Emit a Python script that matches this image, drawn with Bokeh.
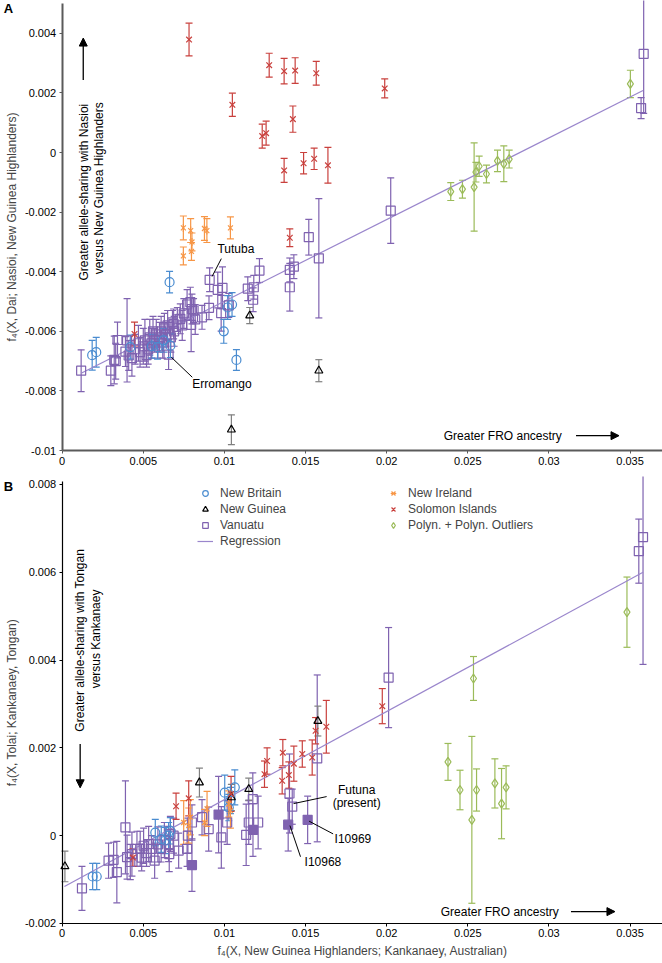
import math
from bokeh.plotting import figure
from bokeh.models import (ColumnDataSource, Whisker, TeeHead, Range1d, Label, Arrow,
                          NormalHead, Legend, LegendItem, FixedTicker, CustomJSTickFormatter)
from bokeh.layouts import column
from bokeh.embed import file_html
from bokeh.resources import INLINE

FONT = "Liberation Sans"

# ---------------- Panel A data: f4(X, Dai; Nasioi, New Guinea Highlanders) ----------------
A_NB_X = [0.00185, 0.0021, 0.0042, 0.00553, 0.00588, 0.00625, 0.00667, 0.00662, 0.00996, 0.0102, 0.01047, 0.01074]
A_NB_Y = [-0.0068, -0.0067, -0.00653, -0.0065, -0.00653, -0.0063, -0.00648, -0.00435, -0.006, -0.0052, -0.0051, -0.00696]
A_NB_E = [0.0005, 0.0005, 0.0004, 0.0004, 0.0004, 0.0004, 0.0004, 0.00036, 0.0004, 0.0004, 0.0004, 0.00035]

A_NG_X = [0.01043, 0.01156, 0.01582]
A_NG_Y = [-0.0093, -0.00547, -0.00732]
A_NG_E = [0.0005, 0.00027, 0.00037]

A_NI_X = [0.00747, 0.00792, 0.00877, 0.00892, 0.01037, 0.00747, 0.00797, 0.0080]
A_NI_Y = [-0.00253, -0.00262, -0.00255, -0.00262, -0.00253, -0.00347, -0.00332, -0.0030]
A_NI_E = [0.0004, 0.0004, 0.0004, 0.0004, 0.00037, 0.0003, 0.0003, 0.0003]

A_SI_X = [0.00782, 0.01049, 0.01233, 0.01257, 0.01276, 0.01368, 0.01436, 0.01566, 0.01422, 0.01368,
          0.01488, 0.01553, 0.01638, 0.01988, 0.01403, 0.00446]
A_SI_Y = [0.00379, 0.0016, 0.00055, 0.00065, 0.00293, 0.00273, 0.00275, 0.00266, 0.00112, -0.0006,
          -0.00036, -0.00021, -0.00043, 0.00215, -0.00286, -0.00609]
A_SI_E = [0.00055, 0.00039, 0.0004, 0.0004, 0.0004, 0.00043, 0.00043, 0.0004, 0.00044, 0.0004,
          0.00036, 0.00036, 0.0006, 0.00032, 0.0003, 0.0004]

A_PO_X = [0.02395, 0.02467, 0.02539, 0.0255, 0.0257, 0.02615, 0.02683, 0.02722, 0.02755, 0.03502]
A_PO_Y = [-0.00131, -0.00123, -0.00116, -0.00066, -0.00046, -0.00072, -0.00028, -0.00038, -0.00022, 0.0023]
A_PO_E = [0.0003, 0.0003, 0.00148, 0.00033, 0.00034, 0.0003, 0.00036, 0.0006, 0.0003, 0.00046]

A_VA_X = [0.00117, 0.0030, 0.00321, 0.0033, 0.00341, 0.0040, 0.0041, 0.0039, 0.0043, 0.0045,
          0.0047, 0.0048, 0.0050, 0.0051, 0.0052, 0.0053, 0.0054, 0.0055, 0.0056, 0.0057,
          0.0058, 0.0059, 0.0060, 0.0061, 0.0062, 0.0063, 0.0064, 0.0065, 0.00656, 0.0067,
          0.0068, 0.0069, 0.00687, 0.0071, 0.00728, 0.0074, 0.0075, 0.0077, 0.0079, 0.0080,
          0.00795, 0.0081, 0.0082, 0.00862, 0.00905, 0.00909, 0.00959, 0.00988, 0.0098, 0.01027,
          0.01144, 0.01181, 0.01216, 0.01177, 0.01403, 0.01428, 0.01403, 0.0152, 0.01582, 0.02025,
          0.03568, 0.03584]
A_VA_Y = [-0.00732, -0.00732, -0.00696, -0.0070, -0.00629, -0.0063, -0.00681, -0.00668, -0.0069, -0.0066,
          -0.0064, -0.0067, -0.0065, -0.0063, -0.0068, -0.0066, -0.0062, -0.0064, -0.0060, -0.0063,
          -0.0061, -0.0065, -0.0062, -0.0060, -0.0064, -0.0059, -0.0061, -0.0058, -0.00678, -0.0062,
          -0.0057, -0.0060, -0.00575, -0.0056, -0.00558, -0.0058, -0.0054, -0.0051, -0.00502, -0.00525,
          -0.00578, -0.0053, -0.0056, -0.00553, -0.00521, -0.00427, -0.00461, -0.00454, -0.00539, -0.00513,
          -0.00457, -0.00452, -0.00396, -0.00494, -0.00394, -0.00383, -0.00452, -0.00284, -0.00355, -0.00195,
          0.00149, 0.00331]
A_VA_E = [0.0007, 0.0005, 0.0008, 0.0006, 0.0006, 0.0014, 0.0005, 0.0005, 0.0006, 0.0005,
          0.0006, 0.0005, 0.0006, 0.0007, 0.0004, 0.0005, 0.0006, 0.0005, 0.0005, 0.0004,
          0.0005, 0.0004, 0.0005, 0.0005, 0.0005, 0.0005, 0.0004, 0.0005, 0.0005, 0.0005,
          0.0004, 0.0005, 0.0005, 0.0004, 0.0005, 0.0005, 0.0005, 0.0005, 0.0005, 0.0005,
          0.0009, 0.0004, 0.0005, 0.0004, 0.0004, 0.0004, 0.0006, 0.0007, 0.0006, 0.0004,
          0.0004, 0.0004, 0.0004, 0.0004, 0.0004, 0.0004, 0.0008, 0.0006, 0.0020, 0.0011,
          0.00035, 0.0020]

A_REG_X = [0.0012, 0.0358]
A_REG_Y = [-0.0074, 0.00208]

# ---------------- Panel B data: f4(X, Tolai; Kankanaey, Tongan) ----------------
B_NB_X = [0.00188, 0.00213, 0.00574, 0.00611, 0.00636, 0.00656, 0.00667, 0.01002, 0.01027, 0.01037, 0.01064]
B_NB_Y = [-0.00093, -0.00093, 0.00007, -0.00008, -0.00011, 0.0, 0.00011, 0.00098, 0.00064, 0.0008, 0.0011]
B_NB_E = [0.0003, 0.0003, 0.0003, 0.0003, 0.0003, 0.0003, 0.0003, 0.0004, 0.0003, 0.0003, 0.0004]

B_NG_X = [0.00017, 0.00846, 0.01043, 0.0115, 0.01576]
B_NG_Y = [-0.0007, 0.00121, 0.00087, 0.00106, 0.00261]
B_NG_E = [0.00035, 0.00033, 0.0003, 0.00025, 0.00034]

B_NI_X = [0.00749, 0.0078, 0.0079, 0.00878, 0.00893, 0.01027, 0.01037]
B_NI_Y = [0.0003, 0.00023, 0.00042, 0.0003, 0.00061, 0.00072, 0.00057]
B_NI_E = [0.0005, 0.0004, 0.0004, 0.0003, 0.0004, 0.0003, 0.0004]

B_SI_X = [0.00436, 0.00702, 0.0078, 0.01041, 0.01247, 0.01263, 0.01356, 0.0136, 0.01397, 0.01428,
          0.0148, 0.01541, 0.01562, 0.01628, 0.01973]
B_SI_Y = [-0.0005, 0.00067, 0.00085, 0.00095, 0.0014, 0.0017, 0.00125, 0.00189, 0.00138, 0.00164,
          0.00186, 0.00178, 0.00239, 0.00248, 0.00295]
B_SI_E = [0.0002, 0.0003, 0.0004, 0.0004, 0.0003, 0.0003, 0.0003, 0.0003, 0.0003, 0.0004,
          0.0003, 0.0004, 0.0003, 0.0006, 0.0004]

B_PO_X = [0.02378, 0.02452, 0.02525, 0.02535, 0.02554, 0.02667, 0.02708, 0.02736, 0.03481]
B_PO_Y = [0.00168, 0.00104, 0.00036, 0.00358, 0.00104, 0.00119, 0.00073, 0.0011, 0.00509]
B_PO_E = [0.00042, 0.00045, 0.0019, 0.0005, 0.00048, 0.00056, 0.0008, 0.00049, 0.0008]

B_VA_X = [0.00122, 0.00286, 0.00317, 0.00337, 0.0039, 0.0040, 0.0042, 0.0043, 0.00461, 0.00481,
          0.0049, 0.00502, 0.0052, 0.00533, 0.0055, 0.0057, 0.0059, 0.0061, 0.0063, 0.00656,
          0.0066, 0.00667, 0.00687, 0.00718, 0.0077, 0.00775, 0.008, 0.00862, 0.00903, 0.00981,
          0.01017, 0.01134, 0.0115, 0.01175, 0.01208, 0.01401, 0.01418, 0.01572, 0.02012, 0.03554,
          0.0358]
B_VA_Y = [-0.0012, -0.00057, -0.00055, -0.00083, 0.00019, -0.00049, -0.0006, -0.00042, -0.0003, -0.0003,
          -0.0005, -0.00023, -0.0004, -0.00019, -0.0003, -0.00057, -0.0002, -0.0003, -0.0001, -0.00019,
          -0.00042, 0.00004, 0.0, -0.00034, -0.0003, 0.0, 0.0003, 0.00042, 0.00015, -0.00004,
          0.0003, 0.00002, 0.0003, 0.00083, 0.0003, 0.00096, 0.00066, 0.00176, 0.0036, 0.00648,
          0.0068]
B_VA_E = [0.0005, 0.0004, 0.0004, 0.0007, 0.00106, 0.0005, 0.0004, 0.0005, 0.0004, 0.0004,
          0.0003, 0.0004, 0.0003, 0.0004, 0.0003, 0.0004, 0.0004, 0.0003, 0.0004, 0.0004,
          0.0004, 0.0004, 0.0004, 0.0004, 0.0004, 0.0004, 0.0004, 0.0004, 0.0005, 0.0007,
          0.0005, 0.0007, 0.0005, 0.0006, 0.0006, 0.0009, 0.0004, 0.0019, 0.00114, 0.00073,
          0.0029]

# ancient Vanuatu individuals (filled squares)
B_VAA_X = [0.008, 0.00964, 0.01176, 0.01393, 0.01513]
B_VAA_Y = [-0.00067, 0.00048, 0.00013, 0.00025, 0.00036]
B_VAA_E = [0.0006, 0.00087, 0.0006, 0.0006, 0.00054]

B_REG_X = [0.00014, 0.0358]
B_REG_Y = [-0.00116, 0.0060]

# ---------------- styling ----------------
C_NB = "#4A8CD0"
C_NG = "#000000"
C_NG_BAR = "#808080"
C_VA = "#7F62B0"
C_NI = "#F79646"
C_SI = "#C9403D"
C_PO = "#9BBB59"
C_REG = "#9A86CC"

X_START = -0.0038   # room for the y axis labels inside the canvas
X_END = 0.037
X_TICKS = [0, 0.005, 0.01, 0.015, 0.02, 0.025, 0.03, 0.035]
A_YTICKS = [-0.01, -0.008, -0.006, -0.004, -0.002, 0, 0.002, 0.004]
B_YTICKS = [-0.002, 0, 0.002, 0.004, 0.006, 0.008]

fmt_code = "return String(Math.round(tick*1e6)/1e6);"


def make_fig(height, y0, y1, ybounds, yticks, axis_color, axis_w):
    p = figure(width=662, height=height, x_range=Range1d(X_START, X_END), y_range=Range1d(y0, y1),
               output_backend="svg", toolbar_location=None,
               min_border_left=0, min_border_right=0, min_border_top=0, min_border_bottom=0)
    p.outline_line_color = None
    p.grid.visible = False
    p.background_fill_color = "white"
    p.border_fill_color = "white"
    p.yaxis[0].fixed_location = 0
    p.yaxis[0].bounds = ybounds
    p.xaxis[0].fixed_location = ybounds[0]
    p.xaxis[0].bounds = (0, X_END)
    for ax, ticks in ((p.xaxis[0], X_TICKS), (p.yaxis[0], yticks)):
        ax.ticker = FixedTicker(ticks=ticks)
        ax.formatter = CustomJSTickFormatter(code=fmt_code)
        ax.axis_line_color = axis_color
        ax.axis_line_width = axis_w
        ax.major_tick_line_color = axis_color
        ax.major_tick_out = 3
        ax.major_tick_in = 0
        ax.minor_tick_out = 0
        ax.minor_tick_in = 0
        ax.major_label_standoff = 3
        ax.major_label_text_font = FONT
        ax.major_label_text_font_size = "11px"
        ax.major_label_text_color = "black"
        ax.axis_label_text_font = FONT
        ax.axis_label_text_font_size = "12px"
        ax.axis_label_text_font_style = "normal"
        ax.axis_label_standoff = 3
    return p


def series(p, xs, ys, es, marker, color, size, bar_color=None, fill=None, lw=1.2, star=False):
    bc = bar_color or color
    src = ColumnDataSource(dict(x=xs, y=ys,
                                upper=[y + e for y, e in zip(ys, es)],
                                lower=[y - e for y, e in zip(ys, es)]))
    w = Whisker(source=src, base="x", upper="upper", lower="lower", dimension="height",
                line_color=bc, line_width=1.2,
                upper_head=TeeHead(size=7, line_color=bc, line_width=1.2),
                lower_head=TeeHead(size=7, line_color=bc, line_width=1.2))
    p.add_layout(w)
    rs = [p.scatter("x", "y", source=src, marker=marker, size=size, line_color=color,
                    fill_color=fill, line_width=lw)]
    if star:
        rs.append(p.scatter("x", "y", source=src, marker="dash", angle=math.pi / 2, size=size + 1,
                            line_color=color, line_width=lw))
    return rs


def text(p, x, y, s, angle=0.0, align="left", baseline="middle", size="12px", style="normal"):
    p.add_layout(Label(x=x, y=y, text=s, angle=angle, text_align=align, text_baseline=baseline,
                       text_font=FONT, text_font_size=size, text_font_style=style, text_color="black"))


def arrow(p, x0, y0, x1, y1):
    p.add_layout(Arrow(x_start=x0, y_start=y0, x_end=x1, y_end=y1, line_width=1.3, line_color="black",
                       end=NormalHead(size=8, fill_color="black", line_color="black")))


# annotation positions (layout)
ANN_A = dict(
    up_arrow=(0.0013, 0.00243, 0.0013, 0.00384),
    txt1=(0.00136, -0.00133), txt2=(0.00228, -0.0012),
    fro=(0.02352, -0.0095), fro_arrow=(0.03167, -0.0095, 0.03432, -0.0095),
    tutuba=(0.00957, -0.00325), tutuba_line=(0.00924, -0.00416, 0.00981, -0.00356),
    erro=(0.00802, -0.00775), erro_line=(0.00673, -0.00687, 0.00802, -0.00754),
    letter=(-0.0036, 0.00508),
)
ANN_B = dict(
    down_arrow=(0.00111, 0.00209, 0.00111, 0.00109),
    txt1=(0.00111, 0.00445), txt2=(0.0021, 0.00448),
    fro=(0.02333, -0.00173), fro_arrow=(0.03136, -0.00173, 0.03407, -0.00173),
    futuna=(0.01815, 0.00105), present=(0.01815, 0.00075), futuna_line=(0.01426, 0.00073, 0.0163, 0.00089),
    i69=(0.01679, -0.00007), i69_line=(0.01522, 0.00033, 0.0167, 0.00004),
    i68=(0.01494, -0.00061), i68_line=(0.01404, 0.00023, 0.01469, -0.00048),
    letter=(-0.0036, 0.00813),
)

# ---------------- Panel A ----------------
pa = make_fig(476, -0.01087, 0.0051, (-0.01, 0.005), A_YTICKS, "#5a5a5a", 2)
pa.yaxis[0].axis_label = "f\u2084(X, Dai; Nasioi, New Guinea Highlanders)"

pa.line(A_REG_X, A_REG_Y, line_color=C_REG, line_width=1.2)
series(pa, A_VA_X, A_VA_Y, A_VA_E, "square", C_VA, 9)
series(pa, A_NB_X, A_NB_Y, A_NB_E, "circle", C_NB, 9)
series(pa, A_NG_X, A_NG_Y, A_NG_E, "triangle", C_NG, 8, bar_color=C_NG_BAR)
series(pa, A_NI_X, A_NI_Y, A_NI_E, "x", C_NI, 7, star=True)
series(pa, A_SI_X, A_SI_Y, A_SI_E, "x", C_SI, 8)
series(pa, A_PO_X, A_PO_Y, A_PO_E, "diamond", C_PO, 9)

a = ANN_A
arrow(pa, *a["up_arrow"])
text(pa, *a["txt1"], "Greater allele-sharing with Nasioi", angle=math.pi / 2, align="center")
text(pa, *a["txt2"], "versus New Guinea Highlanders", angle=math.pi / 2, align="center")
text(pa, *a["fro"], "Greater FRO ancestry")
arrow(pa, *a["fro_arrow"])
text(pa, *a["tutuba"], "Tutuba")
text(pa, *a["erro"], "Erromango")
for key in ("tutuba_line", "erro_line"):
    x0, y0, x1, y1 = a[key]
    pa.line([x0, x1], [y0, y1], line_color="black", line_width=1)
text(pa, *a["letter"], "A", baseline="top", size="13px", style="bold")

# ---------------- Panel B ----------------
pb = make_fig(485, -0.002866, 0.00818, (-0.002, 0.00807), B_YTICKS, "black", 1.2)
pb.yaxis[0].axis_label = "f\u2084(X, Tolai; Kankanaey, Tongan)"
pb.xaxis[0].axis_label = "f\u2084(X, New Guinea Highlanders; Kankanaey, Australian)"

r_reg = pb.line(B_REG_X, B_REG_Y, line_color=C_REG, line_width=1.2)
r_va = series(pb, B_VA_X, B_VA_Y, B_VA_E, "square", C_VA, 9)
series(pb, B_VAA_X, B_VAA_Y, B_VAA_E, "square", C_VA, 9, fill=C_VA)
r_nb = series(pb, B_NB_X, B_NB_Y, B_NB_E, "circle", C_NB, 9)
r_ng = series(pb, B_NG_X, B_NG_Y, B_NG_E, "triangle", C_NG, 8, bar_color=C_NG_BAR)
r_ni = series(pb, B_NI_X, B_NI_Y, B_NI_E, "x", C_NI, 7, star=True)
r_si = series(pb, B_SI_X, B_SI_Y, B_SI_E, "x", C_SI, 8)
r_po = series(pb, B_PO_X, B_PO_Y, B_PO_E, "diamond", C_PO, 9)

b = ANN_B
arrow(pb, *b["down_arrow"])
text(pb, *b["txt1"], "Greater allele-sharing with Tongan", angle=math.pi / 2, align="center")
text(pb, *b["txt2"], "versus Kankanaey", angle=math.pi / 2, align="center")
text(pb, *b["fro"], "Greater FRO ancestry")
arrow(pb, *b["fro_arrow"])
text(pb, *b["futuna"], "Futuna", align="center")
text(pb, *b["present"], "(present)", align="center")
text(pb, *b["i69"], "I10969")
text(pb, *b["i68"], "I10968")
for key in ("futuna_line", "i69_line", "i68_line"):
    x0, y0, x1, y1 = b[key]
    pb.line([x0, x1], [y0, y1], line_color="black", line_width=1)
text(pb, *b["letter"], "B", baseline="top", size="13px", style="bold")


def legend(items, x, y):
    lg = Legend(items=items, location=(x, y), orientation="vertical",
                label_text_font=FONT, label_text_font_size="12px",
                glyph_width=16, glyph_height=14, label_height=14, label_standoff=7,
                spacing=2, padding=0, margin=0, border_line_color=None, background_fill_alpha=0)
    pb.add_layout(lg)


# legend positions in pixels from the frame's bottom-left corner (frame now spans the full canvas)
legend([LegendItem(label="New Britain", renderers=r_nb),
        LegendItem(label="New Guinea", renderers=r_ng),
        LegendItem(label="Vanuatu", renderers=r_va),
        LegendItem(label="Regression", renderers=[r_reg])], 197, 413)
legend([LegendItem(label="New Ireland", renderers=r_ni),
        LegendItem(label="Solomon Islands", renderers=r_si),
        LegendItem(label="Polyn. + Polyn. Outliers", renderers=r_po)], 385, 429)

layout = column(pa, pb, spacing=0)
open("out.html", "w").write(file_html(layout, INLINE))
